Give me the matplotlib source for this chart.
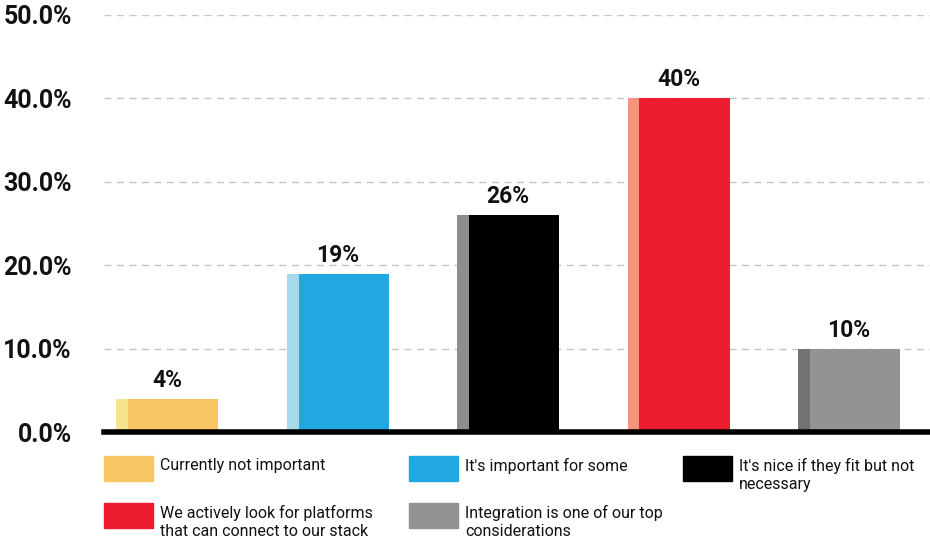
import matplotlib
matplotlib.use("Agg")
import matplotlib.pyplot as plt
from matplotlib.patches import Rectangle

# Survey answers and their shares (%)
categories = [
    "Currently not important",
    "It's important for some",
    "It's nice if they fit but not\nnecessary",
    "We actively look for platforms\nthat can connect to our stack",
    "Integration is one of our top\nconsiderations",
]
values = [4, 19, 26, 40, 10]
value_labels = ["4%", "19%", "26%", "40%", "10%"]
main_colors = ["#F9C664", "#21A8E0", "#000000", "#ED1C2E", "#939393"]
edge_colors = ["#F6E38E", "#A5D9EC", "#8E8E8E", "#F4957D", "#727272"]
y_ticks = [0, 10, 20, 30, 40, 50]
y_tick_labels = ["0.0%", "10.0%", "20.0%", "30.0%", "40.0%", "50.0%"]

plt.rcParams["font.family"] = ["Roboto", "DejaVu Sans"]

W, H = 930, 542
fig = plt.figure(figsize=(W / 100, H / 100), dpi=100)
ax = fig.add_axes([104 / W, 1 - 432 / H, 1 - 104 / W, 417 / H])

x = list(range(len(values)))
full_w = 0.598
strip_w = 0.07

# thin lighter strip on the left of each bar, main colour for the rest
ax.bar([i - full_w / 2 for i in x], values, width=strip_w, align="edge",
       color=edge_colors, zorder=2)
ax.bar([i - full_w / 2 + strip_w for i in x], values, width=full_w - strip_w,
       align="edge", color=main_colors, zorder=2)

for i, v, lab in zip(x, values, value_labels):
    ax.annotate(lab, (i, v), xytext=(0, 5), textcoords="offset points",
                ha="center", va="bottom", fontsize=16.5, fontweight="bold",
                color="#111111", zorder=3)

ax.set_xlim(-0.37, 4.475)
ax.set_ylim(0, 50)
ax.set_yticks(y_ticks)
ax.set_yticklabels(y_tick_labels, fontsize=18, fontweight="bold", color="#111111")
ax.tick_params(axis="y", length=0, pad=23)
ax.set_xticks([])
for s in ax.spines.values():
    s.set_visible(False)

ax.grid(axis="y", color="#C4C4C4", linestyle=(0, (5, 4)), linewidth=1.0, zorder=0)
ax.axhline(0, color="black", linewidth=4, zorder=4, clip_on=False)

# legend: three columns, two rows
col_x = [104, 409, 683]
row_y = [456, 503]
for i, (cat, col) in enumerate(zip(categories, main_colors)):
    cx = col_x[i % 3]
    ry = row_y[i // 3]
    fig.patches.append(Rectangle((cx / W, 1 - (ry + 25) / H), 49 / W, 25 / H,
                                 transform=fig.transFigure, color=col))
    fig.text((cx + 56) / W, 1 - (ry + 2) / H, cat, ha="left", va="top",
             fontsize=11.5, color="#111111", linespacing=1.25)

fig.savefig("out.png", dpi=100)
